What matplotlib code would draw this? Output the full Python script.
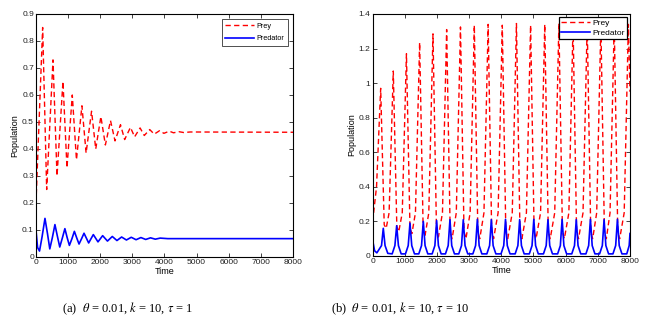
import numpy as np
import matplotlib
matplotlib.use("Agg")
import matplotlib.pyplot as plt

# /=========================================================================
# values

# (a) theta = 0.01, k = 10, tau = 1 : damped oscillation
prey_a_t = [0, 208, 333, 530, 655, 840, 965, 1130, 1260, 1430, 1560, 1730,
            1860, 2020, 2160, 2320, 2460, 2630, 2760, 2940, 3070, 3240, 3370,
            3540, 3680, 3850, 3980, 4150, 4280, 4450, 4600, 4800, 8000]
prey_a_y = [0.20, 0.85, 0.25, 0.73, 0.30, 0.65, 0.33, 0.60, 0.36, 0.56, 0.385,
            0.54, 0.40, 0.52, 0.415, 0.505, 0.43, 0.49, 0.435, 0.48, 0.445,
            0.478, 0.45, 0.472, 0.455, 0.468, 0.458, 0.466, 0.46, 0.464,
            0.461, 0.463, 0.462]

pred_a_t = [0, 50, 110, 190, 280, 360, 430, 510, 590, 670, 740, 820, 900,
            970, 1040, 1120, 1195, 1270, 1340, 1420, 1495, 1640,
            1785, 1930, 2075, 2225, 2375, 2520, 2665, 2815, 2965, 3115, 3265,
            3415, 3565, 3715, 3865, 4100, 8000]
pred_a_y = [0.10, 0.035, 0.022, 0.075, 0.143, 0.085, 0.030, 0.072, 0.120,
            0.075, 0.037, 0.070, 0.105, 0.072, 0.043, 0.068, 0.095, 0.070,
            0.048, 0.068, 0.088, 0.052, 0.083, 0.056, 0.079, 0.059, 0.076,
            0.061, 0.074, 0.063, 0.073, 0.064, 0.072, 0.065, 0.071, 0.066,
            0.070, 0.068, 0.068]

# (b) theta = 0.01, k = 10, tau = 10 : sustained oscillation
prey_b_t = [0, 120, 249, 359, 420,
            511, 641, 751, 811,
            920, 1050, 1160, 1220,
            1330, 1460, 1570, 1630,
            1745, 1875, 1985, 2045,
            2170, 2300, 2410, 2470,
            2600, 2730, 2840, 2900,
            3030, 3160, 3270, 3330,
            3460, 3590, 3700, 3760,
            3900, 4030, 4140, 4200,
            4340, 4470, 4580, 4640,
            4780, 4910, 5020, 5080,
            5220, 5350, 5460, 5520,
            5660, 5790, 5900, 5960,
            6100, 6230, 6340, 6400,
            6540, 6670, 6780, 6840,
            6965, 7095, 7205, 7265,
            7380, 7510, 7620, 7680,
            7820, 7950, 8000]
prey_b_y = [0.20, 0.40, 0.97, 0.18, 0.16,
            0.25, 1.07, 0.17, 0.14,
            0.25, 1.17, 0.16, 0.13,
            0.25, 1.235, 0.15, 0.12,
            0.25, 1.285, 0.14, 0.11,
            0.25, 1.31, 0.14, 0.10,
            0.25, 1.325, 0.14, 0.10,
            0.25, 1.335, 0.14, 0.10,
            0.25, 1.34, 0.14, 0.10,
            0.25, 1.335, 0.14, 0.10,
            0.25, 1.345, 0.14, 0.10,
            0.25, 1.335, 0.14, 0.10,
            0.25, 1.34, 0.14, 0.10,
            0.25, 1.345, 0.14, 0.10,
            0.25, 1.34, 0.14, 0.10,
            0.25, 1.345, 0.14, 0.10,
            0.25, 1.34, 0.14, 0.10,
            0.25, 1.345, 0.14, 0.10,
            0.25, 1.34, 0.95]

pred_b_t = [0, 60, 130, 275, 330, 385, 470,
            606, 691, 746, 801, 886,
            1020, 1105, 1160, 1215, 1300,
            1434, 1519, 1574, 1629, 1714,
            1849, 1934, 1989, 2044, 2129,
            2263, 2348, 2403, 2458, 2543,
            2677, 2762, 2817, 2872, 2957,
            3115, 3200, 3255, 3310, 3395,
            3550, 3635, 3690, 3745, 3830,
            3990, 4075, 4130, 4185, 4270,
            4430, 4515, 4570, 4625, 4710,
            4870, 4955, 5010, 5065, 5150,
            5310, 5395, 5450, 5505, 5590,
            5750, 5835, 5890, 5945, 6030,
            6190, 6275, 6330, 6385, 6470,
            6630, 6715, 6770, 6825, 6910,
            7055, 7140, 7195, 7250, 7335,
            7470, 7555, 7610, 7665, 7750,
            7900, 7975, 8000]
pred_b_y = [0.09, 0.03, 0.018, 0.06, 0.16, 0.06, 0.015,
            0.012, 0.06, 0.175, 0.06, 0.012,
            0.012, 0.06, 0.19, 0.06, 0.012,
            0.012, 0.06, 0.20, 0.06, 0.012,
            0.012, 0.06, 0.205, 0.06, 0.012,
            0.012, 0.06, 0.21, 0.06, 0.012,
            0.012, 0.06, 0.21, 0.06, 0.012,
            0.012, 0.06, 0.212, 0.06, 0.012,
            0.012, 0.06, 0.21, 0.06, 0.012,
            0.012, 0.06, 0.212, 0.06, 0.012,
            0.012, 0.06, 0.21, 0.06, 0.012,
            0.012, 0.06, 0.212, 0.06, 0.012,
            0.012, 0.06, 0.21, 0.06, 0.012,
            0.012, 0.06, 0.212, 0.06, 0.012,
            0.012, 0.06, 0.21, 0.06, 0.012,
            0.012, 0.06, 0.212, 0.06, 0.012,
            0.012, 0.06, 0.21, 0.06, 0.012,
            0.012, 0.06, 0.212, 0.06, 0.012,
            0.012, 0.06, 0.13]

captions = [r"(a)  $\theta$ = 0.01, $k$ = 10, $\tau$ = 1",
            r"(b)  $\theta$ = 0.01, $k$ = 10, $\tau$ = 10"]

# =========================================================================/

plt.rcParams["font.family"] = ["Liberation Sans", "DejaVu Sans"]
plt.rcParams["mathtext.fontset"] = "stix"

fig = plt.figure(figsize=(6.47, 3.24), dpi=100)
ax_a = fig.add_axes([0.0556, 0.2068, 0.3973, 0.75])
ax_b = fig.add_axes([0.576, 0.21, 0.3977, 0.7468])

dash = (0, (3.8, 2.4))


def style(ax, ymax, ystep, yfmt):
    ax.set_xlim(0, 8000)
    ax.set_ylim(0, ymax)
    ax.set_xticks(np.arange(0, 8001, 1000))
    yt = np.arange(0, ymax + 1e-9, ystep)
    ax.set_yticks(yt)
    ax.set_yticklabels([yfmt(v) for v in yt])
    ax.tick_params(direction="in", top=True, right=True, length=3,
                   width=0.6, labelsize=6, pad=1.5, colors="#222222",
                   labelcolor="#222222")
    for s in ax.spines.values():
        s.set_linewidth(0.8)
    ax.set_xlabel("Time", fontsize=6.5, labelpad=1)
    ax.set_ylabel("Population", fontsize=6.5, labelpad=2)


def fmt(v):
    return "{:g}".format(round(v, 2))


ax_a.plot(prey_a_t, prey_a_y, color="#ff0000", lw=1.0, linestyle=dash,
          label="Prey")
ax_a.plot(pred_a_t, pred_a_y, color="#0000ff", lw=1.2, label="Predator")
style(ax_a, 0.9, 0.1, fmt)
leg = ax_a.legend(loc="upper right", fontsize=5.2, handlelength=4.0,
                  borderpad=0.5, labelspacing=0.75, handletextpad=0.3,
                  fancybox=False, framealpha=1, borderaxespad=0.7)
leg.get_frame().set_edgecolor("#333333")
leg.get_frame().set_linewidth(0.6)

ax_b.plot(prey_b_t, prey_b_y, color="#ff0000", lw=1.0, linestyle=dash,
          label="Prey")
ax_b.plot(pred_b_t, pred_b_y, color="#0000ff", lw=1.2, label="Predator")
style(ax_b, 1.4, 0.2, fmt)
leg = ax_b.legend(loc="upper right", fontsize=6, handlelength=3.4,
                  borderpad=0.3, labelspacing=0.2, handletextpad=0.3,
                  fancybox=False, framealpha=1, borderaxespad=0.35)
leg.get_frame().set_edgecolor("black")
leg.get_frame().set_linewidth(0.9)

fig.text(0.197, 0.046, captions[0], fontsize=9, ha="center", va="center",
         family="Liberation Serif")
fig.text(0.618, 0.046, captions[1], fontsize=9, ha="center", va="center",
         family="Liberation Serif")

fig.savefig("out.png", dpi=100)
